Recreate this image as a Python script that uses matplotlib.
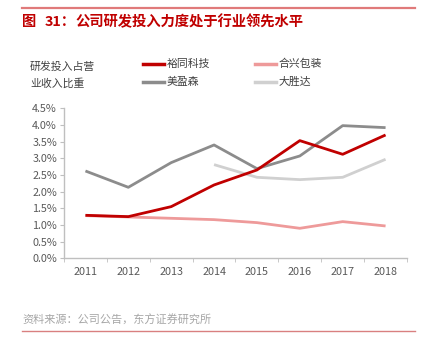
import matplotlib
matplotlib.use("Agg")
import matplotlib.pyplot as plt
from matplotlib.lines import Line2D
from matplotlib.ticker import FuncFormatter, FixedLocator
import numpy as np

plt.rcParams['font.family'] = ['Noto Sans CJK SC', 'DejaVu Sans']

years = ['2011', '2012', '2013', '2014', '2015', '2016', '2017', '2018']
yutong = [1.29, 1.25, 1.55, 2.20, 2.65, 3.53, 3.12, 3.70]
hexing = [1.28, 1.24, 1.20, 1.16, 1.07, 0.90, 1.10, 0.97]
meiyingsen = [2.62, 2.13, 2.87, 3.40, 2.69, 3.07, 3.98, 3.92]
dashengda = [None, None, None, 2.81, 2.43, 2.36, 2.43, 2.97]

names = ['裕同科技', '合兴包装', '美盈森', '大胜达']
colors = ['#C00000', '#EE9A9A', '#8C8C8C', '#D0D0D0']

W, H = 426, 356
fig = plt.figure(figsize=(W/100, H/100), dpi=100)

# decorative lines
fig.add_artist(Line2D([22/W, 415/W], [1-8/H, 1-8/H], color='#E07A7A', lw=1.6))
fig.add_artist(Line2D([22/W, 415/W], [1-331/H, 1-331/H], color='#D98080', lw=1.0))

tkw = dict(color='#C00000', fontsize=10.3, fontweight='bold', va='center', ha='left')
fig.text(22/W, 1-22/H, '图', **tkw)
fig.text(45/W, 1-22/H, '31：', **tkw)
fig.text(75/W, 1-22/H, '公司研发投入力度处于行业领先水平', **tkw)
fig.text(22/W, 1-320/H, '资料来源：公司公告，东方证券研究所', color='#A6A6A6',
         fontsize=8, va='center', ha='left')
fig.text(30/W, 1-67/H, '研发投入占营', color='#404040', fontsize=7.8, va='center')
fig.text(30/W, 1-84/H, '业收入比重', color='#404040', fontsize=7.8, va='center')

ax = fig.add_axes([64/W, 1-258.3/H, (407-64)/W, (258.3-108.3)/H])
x = np.arange(len(years))
series = [yutong, hexing, meiyingsen, dashengda]
order = [1, 3, 2, 0]
for i in order:
    vals = np.array([np.nan if v is None else v for v in series[i]], dtype=float)
    ax.plot(x, vals, color=colors[i], lw=2.0, solid_capstyle='butt')

ax.set_xlim(-0.5, len(years)-0.5)
ax.set_ylim(0, 4.5)
ax.set_yticks(np.arange(0, 4.51, 0.5))
ax.yaxis.set_major_formatter(FuncFormatter(lambda v, p: f'{v:.1f}%'))
ax.set_xticks(x)
ax.set_xticklabels(years)
ax.xaxis.set_minor_locator(FixedLocator(np.arange(-0.5, len(years), 1.0)))
ax.tick_params(axis='x', which='major', length=0, pad=6, labelsize=7.8, labelcolor='#595959')
ax.tick_params(axis='x', which='minor', length=3, color='#BFBFBF', direction='out')
ax.tick_params(axis='y', length=3, color='#BFBFBF', labelsize=7.8, labelcolor='#595959', pad=2)
for s in ['top', 'right']:
    ax.spines[s].set_visible(False)
for s in ['left', 'bottom']:
    ax.spines[s].set_color('#BFBFBF')
    ax.spines[s].set_linewidth(1.0)

# legend
pos = [(143, 64), (255, 64), (143, 82), (255, 82)]
for (lx, ly), name, c in zip(pos, names, colors):
    fig.add_artist(Line2D([lx/W, (lx+21)/W], [1-ly/H, 1-ly/H], color=c, lw=2.5))
    fig.text((lx+24)/W, 1-ly/H, name, color='#404040', fontsize=7.8, va='center', ha='left')

fig.savefig('out.png', dpi=100)
